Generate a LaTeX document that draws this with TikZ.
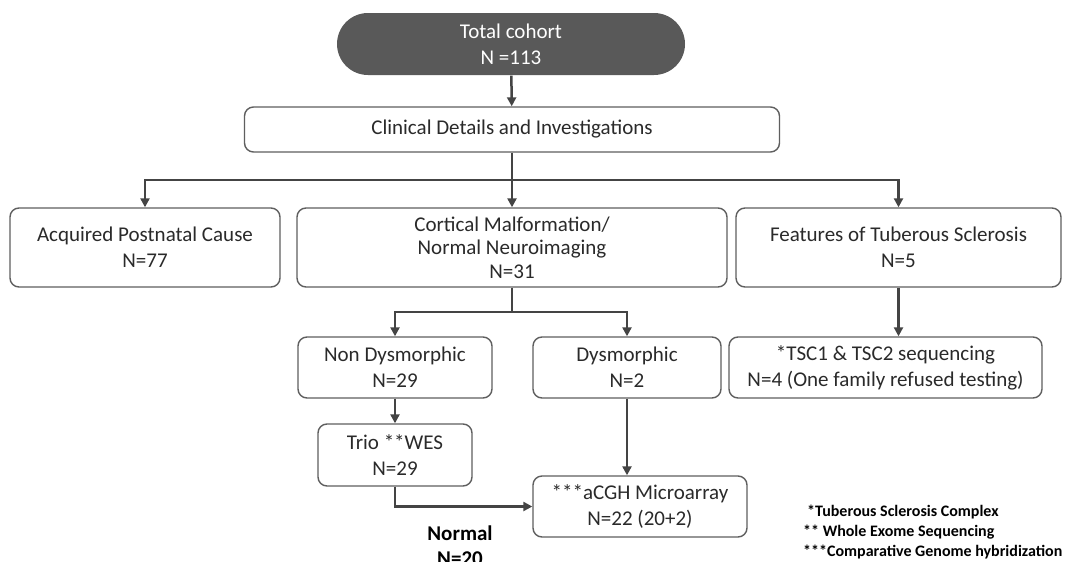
\documentclass[tikz,border=0pt]{standalone}
\usepackage{fontspec}
\setmainfont{Carlito}
\usetikzlibrary{arrows.meta}
\definecolor{boxline}{HTML}{5F5F5F}
\definecolor{linkcol}{HTML}{444444}
\definecolor{pillfill}{HTML}{595959}
\definecolor{txt}{HTML}{2A2A2A}
\begin{document}
\begin{tikzpicture}[x=1pt,y=-1pt,
  box/.style={draw=boxline, line width=1.4pt, rounded corners=9pt, align=center, inner sep=0pt, text=txt, font=\fontsize{21}{26}\selectfont},
  link/.style={draw=linkcol, line width=2.5pt},
  arr/.style={link, -{Triangle[width=9pt,length=9pt]}}]
\useasboundingbox[fill=white] (0,0) rectangle (1084,562);
% boxes
\node[box, fill=pillfill, draw=none, text=white, rounded corners=31pt, minimum width=348pt, minimum height=62pt] (total) at (511,44) {Total cohort\\N =113};
\node[box, minimum width=535pt, minimum height=45pt] (clin) at (512,129.5) {Clinical Details and Investigations};
\node[box, minimum width=270pt, minimum height=79pt] (acq) at (145,247.5) {Acquired Postnatal Cause\\N=77};
\node[box, minimum width=430pt, minimum height=79pt, font=\fontsize{21}{23.5}\selectfont] (cort) at (512,247.5) {Cortical Malformation/\\Normal Neuroimaging\\N=31};
\node[box, minimum width=325pt, minimum height=79pt] (feat) at (898.5,247.5) {Features of Tuberous Sclerosis\\N=5};
\node[box, minimum width=194pt, minimum height=61pt] (nondys) at (395,367.5) {Non Dysmorphic\\N=29};
\node[box, minimum width=188pt, minimum height=61pt] (dys) at (627,367.5) {Dysmorphic\\N=2};
\node[box, minimum width=313pt, minimum height=61pt] (tsc) at (885.5,367.5) {*TSC1 \& TSC2 sequencing\\N=4 (One family refused testing)};
\node[box, minimum width=154pt, minimum height=62pt] (trio) at (395,455) {Trio **WES\\N=29};
\node[box, minimum width=214pt, minimum height=61pt] (acgh) at (640,506.5) {***aCGH Microarray\\N=22 (20+2)};
\node[align=center, inner sep=0pt, font=\fontsize{21}{25}\selectfont\bfseries] (normal) at (460,546) {Normal\\N=20};
\node[anchor=west, align=left, inner sep=0pt, font=\fontsize{16}{20}\selectfont\bfseries] (legend) at (803,532) {\hspace{4pt}*Tuberous Sclerosis Complex\\** Whole Exome Sequencing\\***Comparative Genome hybridization};
% connectors
\coordinate (split1) at (512,180);
\coordinate (split2) at (512,312);
\draw[arr] (total) -- (clin);
\draw[link] (clin) -- (split1);
\draw[arr] (split1) -| (acq);
\draw[arr] (split1) -- (cort);
\draw[arr] (split1) -| (feat);
\draw[link] (cort) -- (split2);
\draw[arr] (split2) -| (nondys);
\draw[arr] (split2) -| (dys);
\draw[arr] (feat.south) -- (feat.south |- tsc.north);
\draw[arr] (nondys) -- (trio);
\draw[arr] (dys.south) -- (dys.south |- acgh.north);
\draw[arr] (trio.south) |- (acgh.west);
\end{tikzpicture}
\end{document}
